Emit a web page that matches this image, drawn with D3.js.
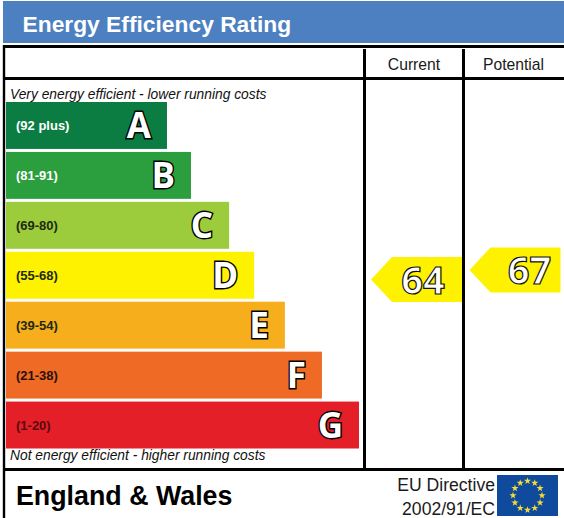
<!DOCTYPE html>
<html>
<head>
<meta charset="utf-8">
<title>Energy Efficiency Rating</title>
<script src="https://cdn.jsdelivr.net/npm/d3@7/dist/d3.min.js"></script>
<style>
  html, body { margin: 0; padding: 0; background: #fff; }
  svg { display: block; }
  text { font-family: "Liberation Sans", Arial, sans-serif; }
  .grade { font-family: "Open Sans", "DejaVu Sans", sans-serif; font-weight: 700; fill: #fff; stroke: #000; stroke-width: 2.8px; paint-order: stroke; }
  .score { font-family: "Open Sans", "DejaVu Sans", sans-serif; font-weight: 700; fill: #fff; stroke: #111; stroke-width: 1.2px; }
</style>
</head>
<body>
<svg id="chart" width="564" height="518"></svg>
<script>
// EPC bands, best to worst
const grades = ["A", "B", "C", "D", "E", "F", "G"];
const ranges = ["(92 plus)", "(81-91)", "(69-80)", "(55-68)", "(39-54)", "(21-38)", "(1-20)"];
const lengths = [45.6, 52.4, 63.2, 70.3, 79.0, 89.5, 100];
const colours = ["#0b7d42", "#2b9e3e", "#9ccb3b", "#fff200", "#f7ae1d", "#ef6a25", "#e41f28"];
const rangeInk = ["#fff", "#fff", "#1d2a10", "#1d2a10", "#1d2a10", "#2a1208", "#5a0a10"];

// Ratings shown in the two right-hand columns
const columns = ["Current", "Potential"];
const ratings = [64, 67];
const ratingColour = "#fff200";

const title = "Energy Efficiency Rating";
const topNote = "Very energy efficient - lower running costs";
const bottomNote = "Not energy efficient - higher running costs";
const region = "England & Wales";
const directive = ["EU Directive", "2002/91/EC"];

const svg = d3.select("#chart");

const barX = d3.scaleLinear().domain([0, 100]).range([6, 359]);
const barY = d3.scaleBand().domain(grades).range([102, 448.5]).paddingInner(0.06).paddingOuter(0);
const ratingY = d3.scaleLinear().domain([0, 100]).range([482.2, 165.5]);
const headingX = d3.scaleOrdinal().domain(columns).range([414, 513.5]);
const arrowX = d3.scaleOrdinal().domain(columns).range([371, 469.5]);

// Title banner
svg.append("rect").attr("x", 3).attr("y", 1).attr("width", 561).attr("height", 42).attr("fill", "#4c80c0");
svg.append("text").attr("x", 22.5).attr("y", 31.5).attr("fill", "#fff")
  .attr("font-size", 22.8).attr("font-weight", 700).text(title);

// Table rules
const rule = (x1, y1, x2, y2, w) => svg.append("line")
  .attr("x1", x1).attr("y1", y1).attr("x2", x2).attr("y2", y2)
  .attr("stroke", "#000").attr("stroke-width", w);
rule(3, 46.5, 564, 46.5, 3);
rule(3, 78.5, 564, 78.5, 3);
rule(3, 469.5, 564, 469.5, 3);
rule(4, 45, 4, 518, 2.4);
rule(364.5, 49, 364.5, 469, 3);
rule(463.5, 49, 463.5, 469, 3);

// Column headings
svg.selectAll(".column").data(columns).join("text")
  .attr("class", "column")
  .attr("x", d => headingX(d))
  .attr("y", 70)
  .attr("text-anchor", "middle")
  .attr("font-size", 15.7).attr("fill", "#1a1a1a")
  .text(d => d);

// Efficiency notes
svg.append("text").attr("x", 10).attr("y", 99).attr("font-size", 13.8)
  .attr("font-style", "italic").attr("fill", "#111").text(topNote);
svg.append("text").attr("x", 10).attr("y", 460).attr("font-size", 13.8)
  .attr("font-style", "italic").attr("fill", "#111").text(bottomNote);

// Rating bands
const band = svg.selectAll(".band").data(grades).join("g").attr("class", "band");
band.append("rect")
  .attr("x", barX(0))
  .attr("y", d => barY(d))
  .attr("width", (d, i) => barX(lengths[i]) - barX(0))
  .attr("height", barY.bandwidth())
  .attr("fill", (d, i) => colours[i]);
band.append("text")
  .attr("x", 16)
  .attr("y", d => barY(d) + barY.bandwidth() / 2 + 5)
  .attr("font-size", 13).attr("font-weight", 700)
  .attr("fill", (d, i) => rangeInk[i])
  .text((d, i) => ranges[i]);
band.append("text")
  .attr("class", "grade")
  .attr("x", (d, i) => barX(lengths[i]) - 16)
  .attr("y", d => barY(d) + barY.bandwidth() / 2 + 13)
  .attr("text-anchor", "end")
  .attr("font-size", 35)
  .text(d => d);

// Rating arrows, each placed on the score scale in its own column
const arrowWidth = 91, arrowHalf = 22.5, arrowHead = 21;
const arrow = svg.selectAll(".rating").data(ratings).join("g").attr("class", "rating")
  .attr("transform", (d, i) => `translate(${arrowX(columns[i])},${ratingY(d)})`);
arrow.append("path")
  .attr("fill", ratingColour)
  .attr("d", d3.line()([[0, 0], [arrowHead, -arrowHalf], [arrowWidth, -arrowHalf], [arrowWidth, arrowHalf], [arrowHead, arrowHalf]]) + "Z");
arrow.append("text")
  .attr("class", "score")
  .attr("x", (d, i) => 52 + i * 8)
  .attr("y", 14)
  .attr("text-anchor", "middle")
  .attr("font-size", 38)
  .text(d => d);

// Footer
svg.append("text").attr("x", 16).attr("y", 505).attr("font-size", 26.8)
  .attr("font-weight", 700).attr("fill", "#000").text(region);
svg.selectAll(".directive").data(directive).join("text")
  .attr("class", "directive")
  .attr("x", 495)
  .attr("y", (d, i) => 491 + i * 24)
  .attr("text-anchor", "end")
  .attr("font-size", 17.6).attr("fill", "#1a1a1a")
  .text(d => d);

// EU flag
const flagStars = d3.range(12);
const flag = svg.append("g").attr("transform", "translate(497,475)");
flag.append("rect").attr("width", 61).attr("height", 41).attr("fill", "#0f4a9c");
const star = d3.symbol().type(d3.symbolStar).size(16);
flag.selectAll("path").data(flagStars).join("path")
  .attr("d", star)
  .attr("fill", "#f5dc3a")
  .attr("transform", d => {
    const a = d / 12 * 2 * Math.PI;
    return `translate(${30.5 + 14.5 * Math.sin(a)},${20.5 - 14.5 * Math.cos(a)})`;
  });
</script>
</body>
</html>
